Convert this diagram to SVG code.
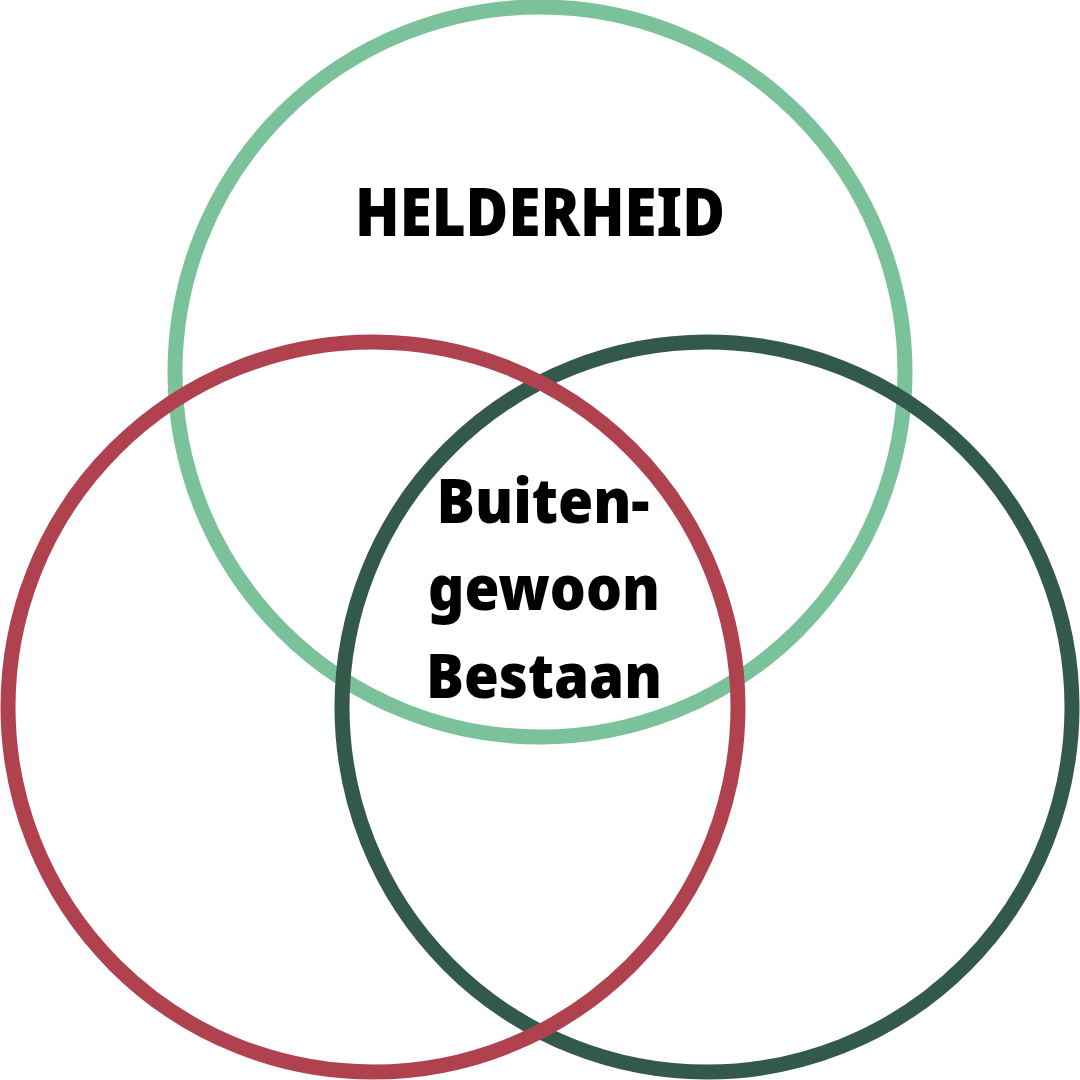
<svg xmlns="http://www.w3.org/2000/svg" width="1080" height="1080" viewBox="0 0 1080 1080">
<style>
.ring{fill:none;stroke-width:15}
.t{font-family:"Noto Sans","Liberation Sans",sans-serif;font-weight:900;fill:#000;text-anchor:middle}
</style>
<rect width="1080" height="1080" fill="#fff"/>
<g id="circles">
<g id="helderheid-circle"><circle class="ring" cx="540" cy="372" r="365" stroke="#7BC29A"/></g>
<g id="darkgreen-circle"><circle class="ring" cx="707" cy="707" r="365" stroke="#33594A"/></g>
<g id="red-circle"><circle class="ring" cx="373" cy="707" r="365" stroke="#B04250"/></g>
</g>
<g id="labels">
<text class="t" x="540" y="236" font-size="67" textLength="370" lengthAdjust="spacingAndGlyphs">HELDERHEID</text>
<text class="t" x="543" y="523" font-size="62" textLength="213" lengthAdjust="spacingAndGlyphs">Buiten-</text>
<text class="t" x="544" y="610" font-size="62" textLength="232" lengthAdjust="spacingAndGlyphs">gewoon</text>
<text class="t" x="544" y="698" font-size="62" textLength="236" lengthAdjust="spacingAndGlyphs">Bestaan</text>
</g>
</svg>
